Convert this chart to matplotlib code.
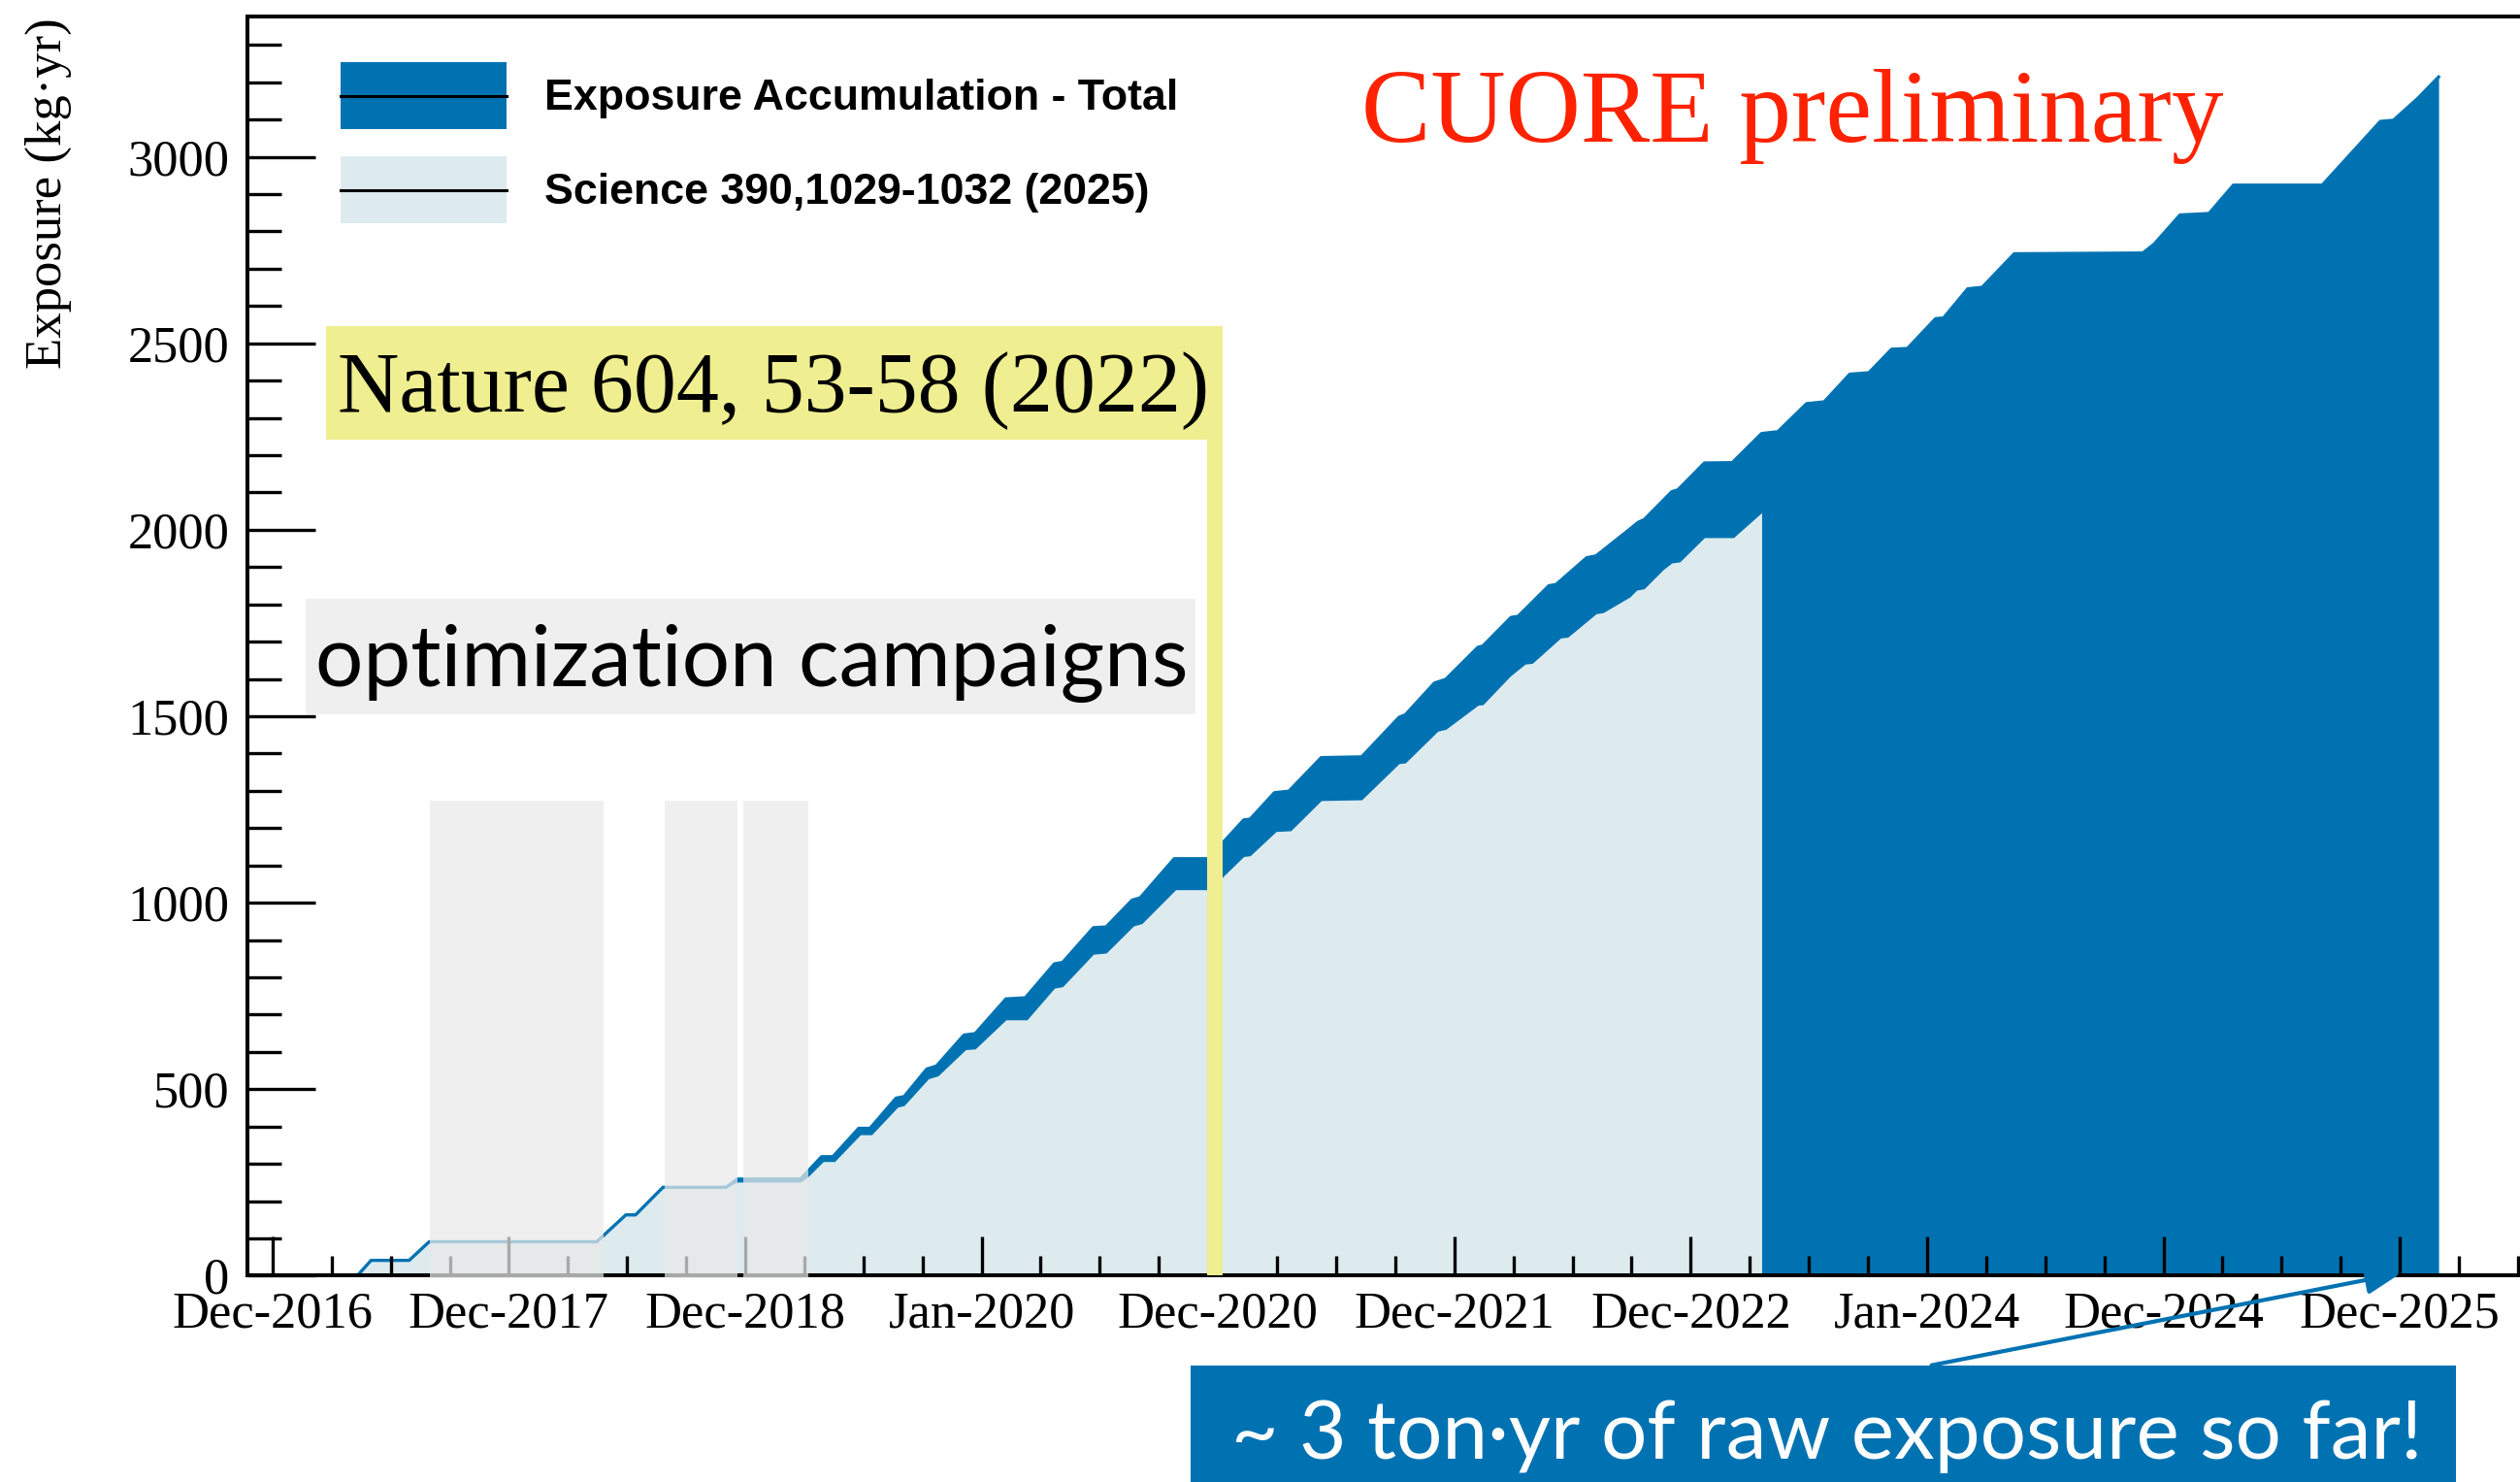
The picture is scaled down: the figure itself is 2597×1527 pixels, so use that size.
import numpy as np
import matplotlib.pyplot as plt
import matplotlib.transforms as mtransforms
from matplotlib.patches import Rectangle, FancyArrowPatch
from matplotlib.lines import Line2D
from matplotlib.ticker import MultipleLocator

W, H = 2597, 1527

# accumulated exposure (kg*yr) vs time in decimal years
total_t = [2017.359, 2017.417, 2017.578, 2017.663, 2018.372, 2018.495, 2018.536, 2018.652, 2018.919, 2018.967, 2019.234,
           2019.323, 2019.371, 2019.480, 2019.528, 2019.638, 2019.672, 2019.768, 2019.809, 2019.925, 2019.973,
           2020.103, 2020.185, 2020.308, 2020.343, 2020.473, 2020.527, 2020.637, 2020.671, 2020.815, 2020.975,
           2021.021, 2021.109, 2021.136, 2021.239, 2021.300, 2021.437, 2021.608, 2021.766, 2021.793, 2021.916, 2021.964,
           2022.10, 2022.12, 2022.24, 2022.27, 2022.40, 2022.43, 2022.56, 2022.60, 2022.743, 2022.778, 2022.803, 2022.920, 2022.946,
           2023.058, 2023.176, 2023.300, 2023.369, 2023.490, 2023.565, 2023.673, 2023.754, 2023.850, 2023.917,
           2024.036, 2024.070, 2024.172, 2024.233, 2024.369, 2024.913, 2024.961, 2025.070, 2025.193, 2025.296, 2025.672,
           2025.918, 2025.973, 2026.075, 2026.164]
total_exp = [0, 41, 41, 91, 91, 163, 163, 237, 237, 259, 259,
             319, 319, 395, 395, 476, 480, 554, 562, 645, 649,
             742, 745, 836, 840, 933, 935, 1007, 1013, 1118, 1118,
             1161, 1222, 1224, 1295, 1299, 1389, 1391, 1497, 1504, 1589, 1599,
             1685, 1688, 1765, 1768, 1850, 1853, 1925, 1930, 2002, 2020, 2027, 2102, 2107,
             2179, 2180, 2258, 2263, 2338, 2343, 2417, 2421, 2484, 2486,
             2566, 2568, 2646, 2650, 2740, 2742, 2766, 2844, 2848, 2924, 2924,
             3095, 3098, 3156, 3214]

# dataset used for the Science 2025 result
science_t = [2017.359, 2017.417, 2017.578, 2017.663, 2018.372, 2018.495, 2018.536, 2018.652, 2018.919, 2018.967, 2019.234,
             2019.268, 2019.330, 2019.378, 2019.487, 2019.535, 2019.645, 2019.672, 2019.775, 2019.816, 2019.932, 2019.973,
             2020.103, 2020.192, 2020.308, 2020.343, 2020.473, 2020.527, 2020.643, 2020.678, 2020.821, 2020.980,
             2021.021, 2021.109, 2021.136, 2021.246, 2021.308, 2021.437, 2021.608, 2021.766, 2021.793, 2021.930, 2021.964,
             2022.101, 2022.121, 2022.237, 2022.30, 2022.33, 2022.45, 2022.48, 2022.60, 2022.63, 2022.743, 2022.771, 2022.803,
             2022.885, 2022.920, 2022.954, 2023.058, 2023.181, 2023.300]
science_exp = [0, 41, 41, 91, 91, 163, 163, 237, 237, 251, 251,
               267, 306, 306, 378, 378, 452, 456, 528, 536, 606, 608,
               686, 686, 771, 775, 862, 865, 938, 944, 1035, 1035,
               1070, 1124, 1126, 1191, 1193, 1274, 1276, 1373, 1375, 1460, 1465,
               1530, 1531, 1608, 1640, 1642, 1710, 1712, 1775, 1778, 1820, 1838, 1842,
               1894, 1911, 1914, 1979, 1979, 2046]

# optimization campaigns (start, end) and the Nature 2022 data cut
campaigns = [(2017.666, 2018.401), (2018.659, 2018.967), (2018.991, 2019.266)]
campaign_top = 1273
nature_date = 2020.987
nature_top = 2244

tick_years = np.arange(2017, 2027)
tick_labels = ['Dec-2016', 'Dec-2017', 'Dec-2018', 'Jan-2020', 'Dec-2020',
               'Dec-2021', 'Dec-2022', 'Jan-2024', 'Dec-2024', 'Dec-2025']

dark_blue = '#0072b2'
light_blue = '#ddebef'
yellow = '#efee90'
serif = 'Liberation Serif'

fig = plt.figure(figsize=(W / 100, H / 100), dpi=100)
# pixel coordinates with origin at the top-left corner, for the annotations
pix = mtransforms.Affine2D().scale(1 / W, -1 / H).translate(0, 1) + fig.transFigure

ax = fig.add_axes([255 / W, 1 - 1314.4 / H, (2640 - 255) / W, (1314.4 - 16.7) / H])
ax.set_xlim(2016.894, 2026.685)
ax.set_ylim(0, 3377)

ax.fill_between(total_t, total_exp, color=dark_blue, lw=0, zorder=1)
ax.fill_between(science_t, science_exp, color=light_blue, lw=0, zorder=1.2)
ax.plot(total_t, total_exp, color=dark_blue, lw=2.4, zorder=1.5)

for start, end in campaigns:
    ax.add_patch(Rectangle((start, -8), end - start, campaign_top + 8, facecolor='#e9e9e9',
                           alpha=0.725, lw=0, zorder=3, clip_on=False))

ax.axvline(nature_date, 0, nature_top / 3377, color=yellow, lw=11.5, zorder=3)

# axes styling
for side in ax.spines.values():
    side.set_linewidth(2.9)
ax.set_xticks(tick_years)
ax.set_xticklabels(tick_labels)
ax.xaxis.set_minor_locator(MultipleLocator(0.25))
ax.yaxis.set_major_locator(MultipleLocator(500))
ax.yaxis.set_minor_locator(MultipleLocator(100))
ax.tick_params(axis='both', which='both', direction='in', width=2.4, pad=13.5,
               labelsize=37.8, top=False, right=False)
ax.tick_params(axis='x', which='both', pad=11.5)
ax.tick_params(axis='y', which='major', length=50.4)
ax.tick_params(axis='y', which='minor', length=25.2)
ax.tick_params(axis='x', which='major', length=28.8)
ax.tick_params(axis='x', which='minor', length=14.4)
for lab in ax.get_xticklabels() + ax.get_yticklabels():
    lab.set_family(serif)

fig.text(50, 18, 'Exposure (kg·yr)', transform=pix, rotation=90, ha='center', va='top',
         fontsize=38, family=serif)

# legend
legend_rows = [(64, dark_blue, 'Exposure Accumulation - Total'),
               (161, light_blue, 'Science 390,1029-1032 (2025)')]
for top, colour, label in legend_rows:
    fig.add_artist(Rectangle((351, top), 171, 69, transform=pix, facecolor=colour, lw=0))
    fig.add_artist(Line2D([351, 522], [top + 34.5, top + 34.5], transform=pix, color='black', lw=2.2))
    fig.text(561, top + 37.5, label, transform=pix, ha='left', va='center',
             fontsize=32.2, fontweight='bold', family='Liberation Sans')

fig.text(1403, 145.7, 'CUORE preliminary', transform=pix, ha='left', va='baseline',
         fontsize=77, color='#ff2200', family=serif)

# Nature 2022 label box
fig.add_artist(Rectangle((336, 336), 1260 - 336, 452.7 - 336, transform=pix, facecolor=yellow, lw=0))
fig.text(348, 424, 'Nature 604, 53-58 (2022)', transform=pix, ha='left', va='baseline',
         fontsize=63.3, family=serif)

# optimization campaigns label
fig.add_artist(Rectangle((315, 617), 1232 - 315, 736 - 617, transform=pix, facecolor='#efefef', lw=0))
fig.text(325, 707, 'optimization campaigns', transform=pix, ha='left', va='baseline',
         fontsize=62.7, family='Lato')

# raw exposure callout
fig.add_artist(Rectangle((1227, 1407), 2531 - 1227, 130, transform=pix, facecolor=dark_blue, lw=0))
fig.text(1269, 1503, '~ 3 ton·yr of raw exposure so far!', transform=pix, ha='left', va='baseline',
         fontsize=60.3, color='white', family='Lato')
fig.add_artist(FancyArrowPatch((1990.6, 1406.7), (2474.5, 1311.7), transform=pix,
                               arrowstyle='-|>,head_length=1.1,head_width=0.45', mutation_scale=20,
                               shrinkA=0, shrinkB=0, color=dark_blue, lw=3))

fig.savefig('out.png', dpi=100)
